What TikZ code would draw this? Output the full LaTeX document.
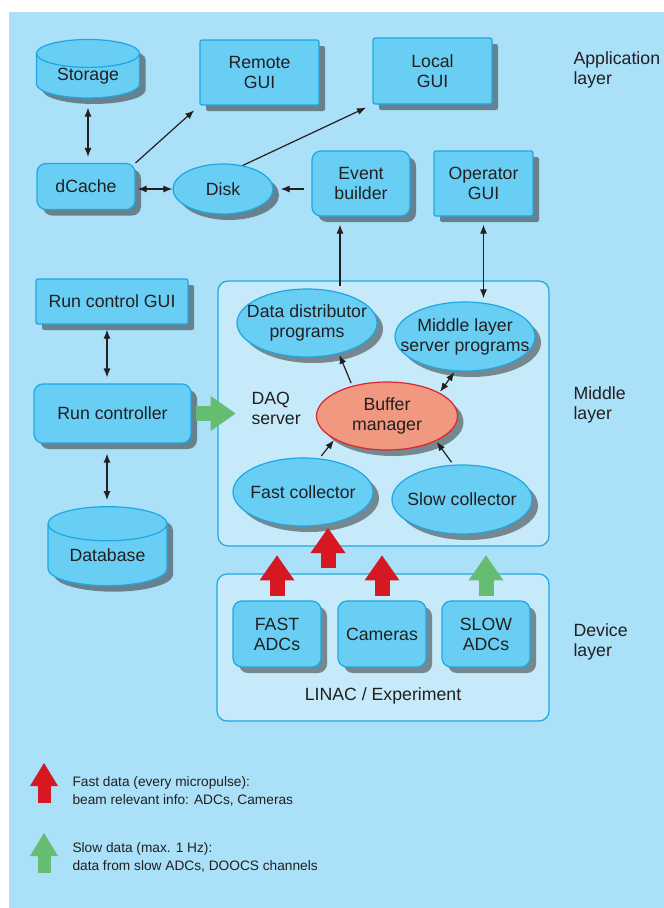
\documentclass[tikz,border=0pt]{standalone}
\usepackage{fontspec}
\setmainfont{Liberation Sans}
\usepackage{tikz}
\usetikzlibrary{calc}
\usetikzlibrary{arrows.meta}
\usetikzlibrary{shapes.geometric}
\usetikzlibrary{shadows}

\definecolor{bgblue}{RGB}{170,224,248}
\definecolor{boxblue}{RGB}{104,206,243}
\definecolor{boxline}{RGB}{30,168,226}
\definecolor{panelblue}{RGB}{198,234,249}
\definecolor{bufred}{RGB}{240,152,128}
\definecolor{bufline}{RGB}{222,36,46}
\definecolor{fastred}{RGB}{214,24,34}
\definecolor{slowgreen}{RGB}{100,189,112}
\definecolor{ink}{RGB}{35,31,32}

\tikzset{
  every node/.style={font=\fontsize{17.7}{20}\selectfont, text=ink},
  box/.style={draw=boxline, fill=boxblue, line width=1.2pt, align=center, inner sep=0pt,
    drop shadow={shadow xshift=6pt, shadow yshift=-6pt, opacity=.5, fill=black!85}},
  sqbox/.style={box, rounded corners=2pt},
  rndbox/.style={box, rounded corners=9pt},
  prog/.style={box, ellipse, inner sep=-20pt},
  store/.style={box, cylinder, shape border rotate=90, aspect=.45},
  panel/.style={draw=boxline, fill=panelblue, line width=1.2pt, rounded corners=10pt, inner sep=0pt},
  layer/.style={anchor=west, align=left},
  keytext/.style={anchor=west, align=left, font=\fontsize{13.7}{18}\selectfont},
  arr/.style={-{Latex[length=9pt,width=7pt]}, line width=1.2pt, ink},
  dblarr/.style={{Latex[length=9pt,width=7pt]}-{Latex[length=9pt,width=7pt]}, line width=1.2pt, ink},
  fastflow/.style={line width=15pt, fastred, -{Triangle[length=25pt,width=35pt,line width=0pt]}},
  slowflow/.style={line width=15pt, slowgreen, -{Triangle[length=25pt,width=35pt,line width=0pt]}},
}

\begin{document}
\begin{tikzpicture}[x=1pt, y=-1pt]
\useasboundingbox (0,0) rectangle (664,908);
\fill[white] (0,0) rectangle (664,908);
\fill[bgblue] (9,12) rectangle (664,908);

% panels
\node[panel, minimum width=331pt, minimum height=265pt] (mid) at (383.5,413.5) {};
\node[panel, minimum width=332pt, minimum height=147pt] (dev) at (383,647.5) {};

% application layer
\node[store, minimum width=103pt, minimum height=53pt] (sto) at (88,76) {Storage};
\node[sqbox, minimum width=119pt, minimum height=65pt] (rgui) at (259.5,72.5) {Remote\\GUI};
\node[sqbox, minimum width=119pt, minimum height=66pt] (lgui) at (432.5,71) {Local\\GUI};
\node[rndbox, minimum width=98pt, minimum height=46pt] (dcache) at (86,186.5) {dCache};
\node[prog, minimum width=100pt, minimum height=50pt] (disk) at (223,189) {Disk};
\node[rndbox, minimum width=98pt, minimum height=65pt] (eb) at (361,183.5) {Event\\builder};
\node[sqbox, minimum width=99pt, minimum height=65pt] (ogui) at (483.5,183.5) {Operator\\GUI};

% run control
\node[sqbox, minimum width=152pt, minimum height=45pt] (rcgui) at (112,301.5) {Run control GUI};
\node[rndbox, minimum width=157pt, minimum height=59pt] (rc) at (112.5,413.5) {Run controller};
\node[store, minimum width=119pt, minimum height=79pt] (db) at (107.5,555) {Database};

% DAQ server
\node[layer] (daq) at (248,408) {DAQ\\server};
\node[prog, minimum width=140pt, minimum height=68pt] (dist) at (307,323) {Data distributor\\programs};
\node[prog, minimum width=140pt, minimum height=69pt] (mls) at (465,336.5) {Middle layer\\server programs};
\node[prog, draw=bufline, fill=bufred, minimum width=141pt, minimum height=68pt] (buf) at (387,416) {Buffer\\manager};
\node[prog, minimum width=140pt, minimum height=68pt] (fast) at (303,492) {Fast collector};
\node[prog, minimum width=140pt, minimum height=69pt] (slow) at (462,499.5) {Slow collector};

% devices
\node[rndbox, minimum width=88pt, minimum height=66pt] (fadc) at (277,634) {FAST\\ADCs};
\node[rndbox, minimum width=88pt, minimum height=66pt] (cam) at (382,634) {Cameras};
\node[rndbox, minimum width=88pt, minimum height=66pt] (sadc) at (486,634) {SLOW\\ADCs};
\node (linac) at (383,696) {LINAC / Experiment};

% layer names
\node[layer] (applayer) at (570,70) {Application\\layer};
\node[layer] (midlayer) at (570,405) {Middle\\layer};
\node[layer] (devlayer) at (570,642) {Device\\layer};

% connectors
\draw[dblarr, shorten <=9pt, shorten >=6pt] (sto.south) -- (sto.south |- dcache.north);
\draw[dblarr, shorten <=2pt] (disk.west -| dcache.east) -- (disk.west);
\draw[arr, shorten <=7pt, shorten >=7pt] (disk.east -| eb.west) -- (disk.east);
\draw[arr, shorten >=7pt] (dcache.north east) -- (rgui.south west);
\draw[arr, shorten >=7pt] (disk.50) -- (lgui.south west);
\coordinate (ebin) at (340,286);
\draw[arr, shorten >=8pt] (ebin) -- (ebin |- eb.south);
\draw[dblarr, shorten <=8pt, shorten >=3pt] (ogui.south) -- (ogui.south |- mls.north);
\draw[dblarr, shorten <=5pt, shorten >=6pt] (rcgui.south -| 107,0) -- (rc.north -| 107,0);
\draw[dblarr, shorten <=10pt, shorten >=6pt] (rc.south -| 107,0) -- (db.north -| 107,0);
\draw[arr, shorten <=3pt, shorten >=1pt] (buf.139) -- (dist.-44);
\draw[dblarr, shorten <=1pt, shorten >=1pt] (buf.24) -- (mls.-106);
\draw[arr, shorten <=3pt, shorten >=1pt] (fast.64) -- (buf.204);
\draw[arr, shorten <=3pt, shorten >=1pt] (slow.104) -- (buf.-27);

% data flow
\draw[slowflow] ($(rc.east)+(4,0)$) -- ++(40,0);
\draw[fastflow] ($(fadc.north)+(0,-4)$) -- ++(0,-41);
\draw[fastflow] ($(cam.north)+(0,-4)$) -- ++(0,-41);
\draw[slowflow] ($(sadc.north)+(0,-4)$) -- ++(0,-41);
\coordinate (midin) at (328,568);
\draw[fastflow] (midin) -- ++(0,-40);

% key
\coordinate (fastkey) at (44,803);
\coordinate (slowkey) at (44,873);
\draw[fastred, line width=13pt, -{Triangle[length=23pt,width=28pt,line width=0pt]}] (fastkey) -- ++(0,-40);
\draw[slowgreen, line width=13pt, -{Triangle[length=23pt,width=28pt,line width=0pt]}] (slowkey) -- ++(0,-40);
\node[keytext] (fasttext) at (69,791) {Fast data (every micropulse):\\beam relevant info: ADCs, Cameras};
\node[keytext] (slowtext) at (69,857) {Slow data (max. 1 Hz):\\data from slow ADCs, DOOCS channels};
\end{tikzpicture}
\end{document}
